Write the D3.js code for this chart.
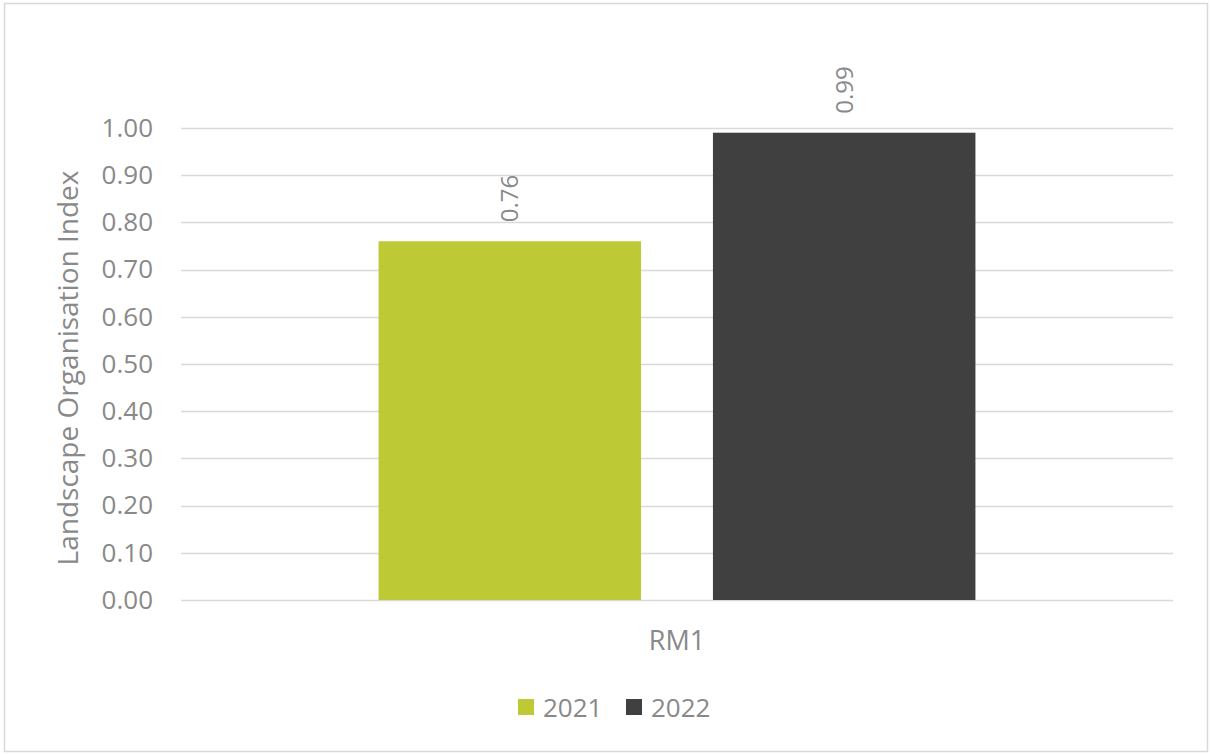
<!DOCTYPE html>
<html>
<head>
<meta charset="utf-8">
<script src="https://cdn.jsdelivr.net/npm/d3@7"></script>
<style>
  html, body { margin: 0; padding: 0; background: #fff; }
  svg { display: block; font-family: "Open Sans", "Noto Sans", sans-serif; }
</style>
</head>
<body>
<svg id="chart" width="1211" height="755"></svg>
<script>
// Landscape Organisation Index per monitoring site and year
const categories = ["RM1"];
const seriesNames = ["2021", "2022"];
const values2021 = [0.76];
const values2022 = [0.99];
const yTicks = [0, 0.1, 0.2, 0.3, 0.4, 0.5, 0.6, 0.7, 0.8, 0.9, 1.0];
const seriesColors = ["#bdc935", "#404040"];

const seriesValues = [values2021, values2022];
const rows = categories.map((c, i) => ({
  category: c,
  entries: seriesNames.map((s, j) => ({ series: s, value: seriesValues[j][i] }))
}));

const svg = d3.select("#chart");
const W = 1211, H = 755;
const plot = { left: 181, right: 1173, top: 128, bottom: 600 };
const textColor = "#898989";

// outer frame
svg.append("rect")
  .attr("x", 4.5).attr("y", 3.5)
  .attr("width", W - 8).attr("height", H - 7)
  .attr("fill", "#fff").attr("stroke", "#d9d9d9").attr("stroke-width", 1.5);

const y = d3.scaleLinear().domain([0, 1]).range([plot.bottom, plot.top]);
const x0 = d3.scaleBand().domain(categories)
  .range([plot.left, plot.right]).paddingInner(0).paddingOuter(0.331);
const x1 = d3.scaleBand().domain(seriesNames)
  .range([0, x0.bandwidth()]).paddingInner(0.215).paddingOuter(0);
const color = d3.scaleOrdinal().domain(seriesNames).range(seriesColors);

// gridlines
svg.append("g")
  .selectAll("line").data(yTicks).join("line")
  .attr("x1", plot.left).attr("x2", plot.right)
  .attr("y1", d => Math.round(y(d)) + 0.5).attr("y2", d => Math.round(y(d)) + 0.5)
  .attr("stroke", "#d9d9d9").attr("stroke-width", 1.5);

// y axis labels
const yAxis = d3.axisLeft(y).tickValues(yTicks).tickFormat(d3.format(".2f")).tickSize(0).tickPadding(0);
const gy = svg.append("g").attr("transform", `translate(153,0)`).call(yAxis);
gy.select(".domain").remove();
gy.selectAll("text")
  .attr("fill", textColor).attr("font-size", 26).attr("font-family", "Open Sans, sans-serif");

// y axis title
svg.append("text")
  .attr("transform", `translate(78,${(plot.top + plot.bottom) / 2 + 4}) rotate(-90)`)
  .attr("text-anchor", "middle")
  .attr("fill", textColor).attr("font-size", 28)
  .text("Landscape Organisation Index");

// bars
const groups = svg.append("g").selectAll("g").data(rows).join("g")
  .attr("transform", d => `translate(${x0(d.category)},0)`);

groups.selectAll("rect").data(d => d.entries).join("rect")
  .attr("x", d => x1(d.series))
  .attr("y", d => y(d.value))
  .attr("width", x1.bandwidth())
  .attr("height", d => y(0) - y(d.value))
  .attr("fill", d => color(d.series));

// value labels, rotated above each bar
groups.selectAll("text").data(d => d.entries).join("text")
  .attr("transform", d => `translate(${x1(d.series) + x1.bandwidth() / 2 + 8.5},${y(d.value) - 19}) rotate(-90)`)
  .attr("text-anchor", "start")
  .attr("fill", textColor).attr("font-size", 24)
  .text(d => d3.format(".2f")(d.value));

// category axis label
svg.append("g").selectAll("text").data(categories).join("text")
  .attr("x", d => x0(d) + x0.bandwidth() / 2)
  .attr("y", 650)
  .attr("text-anchor", "middle")
  .attr("fill", textColor).attr("font-size", 27)
  .text(d => d);

// legend
const legendItems = [
  { name: seriesNames[0], x: 518 },
  { name: seriesNames[1], x: 626 }
];
const lg = svg.append("g").selectAll("g").data(legendItems).join("g")
  .attr("transform", d => `translate(${d.x},699)`);
lg.append("rect").attr("width", 16).attr("height", 16).attr("fill", d => color(d.name));
lg.append("text").attr("x", 25).attr("y", 18)
  .attr("fill", textColor).attr("font-size", 26)
  .text(d => d.name);
</script>
</body>
</html>
